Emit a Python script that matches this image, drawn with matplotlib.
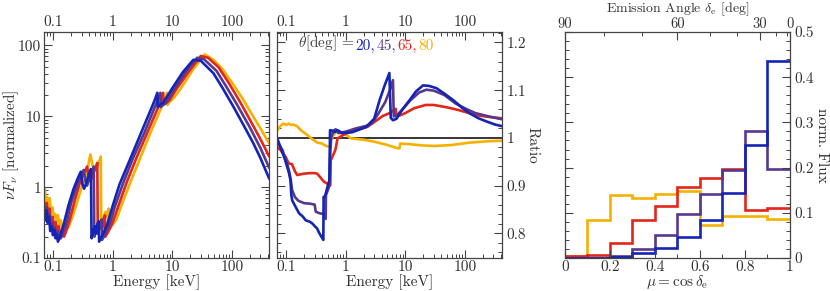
import matplotlib
matplotlib.use("Agg")
import matplotlib.pyplot as plt
import matplotlib.ticker as mticker
import numpy as np

plt.rcParams['font.family'] = 'cmr10'
plt.rcParams['mathtext.fontset'] = 'cm'
plt.rcParams['axes.unicode_minus'] = False
plt.rcParams['axes.formatter.use_mathtext'] = True

# colours for theta = 20, 45, 65, 80 deg
c_blue = '#1424b4'
c_purple = '#58388e'
c_red = '#e2261a'
c_orange = '#f6b000'

# ---- left panel: nuF_nu spectra ----
e_20 = [0.07, 0.073, 0.077, 0.081, 0.085, 0.089, 0.094, 0.099, 0.104, 0.109, 0.114, 0.12, 0.13,
        0.15, 0.18, 0.22, 0.26, 0.29, 0.31, 0.33, 0.36, 0.39, 0.43, 0.44, 0.47, 0.50, 0.52, 0.55,
        0.58, 0.59, 0.65, 0.8, 1.0, 1.3, 2.0, 3.0, 4.0, 5.0, 5.6, 5.7, 6.2, 7.0, 10, 15, 22.5,
        30, 49, 70, 106, 160, 229, 300, 420]
f_20 = [0.45, 0.34, 0.47, 0.31, 0.38, 0.24, 0.28, 0.21, 0.25, 0.19, 0.22, 0.17, 0.2,
        0.3, 0.55, 0.95, 1.35, 1.65, 1.1, 0.95, 1.15, 1.45, 1.8, 0.19, 0.24, 0.28, 0.22, 0.3,
        0.33, 0.17, 0.2, 0.29, 0.55, 1.1, 2.6, 5.9, 10.5, 16.5, 21.5, 13.5, 14.5, 15.5, 25, 42, 62.7,
        61, 40.6, 25, 13.7, 7.3, 4.17, 2.6, 1.34]

e_45 = [0.07, 0.074, 0.078, 0.082, 0.086, 0.091, 0.096, 0.101, 0.106, 0.112, 0.118, 0.124, 0.134,
        0.145, 0.17, 0.2, 0.25, 0.29, 0.325, 0.35, 0.37, 0.4, 0.44, 0.48, 0.49, 0.52, 0.56, 0.58,
        0.62, 0.65, 0.66, 0.73, 0.9, 1.1, 1.5, 2.2, 3.4, 4.5, 5.6, 6.3, 6.4, 7.0, 8.0, 11, 17, 26,
        34, 55, 80, 120, 200, 300, 420]
f_45 = [0.5, 0.38, 0.52, 0.34, 0.42, 0.27, 0.31, 0.23, 0.27, 0.21, 0.24, 0.19, 0.19,
        0.22, 0.33, 0.6, 1.05, 1.45, 1.75, 1.2, 1.05, 1.3, 1.6, 1.95, 0.2, 0.25, 0.3, 0.24,
        0.32, 0.35, 0.18, 0.21, 0.31, 0.55, 1.15, 2.6, 5.9, 10.5, 16.5, 21.5, 13.5, 14.5, 16, 25, 43, 67,
        64, 44, 26.5, 15, 7.0, 3.6, 1.9]

e_65 = [0.07, 0.074, 0.078, 0.082, 0.087, 0.092, 0.098, 0.104, 0.11, 0.117, 0.124, 0.132, 0.14,
        0.152, 0.165, 0.19, 0.23, 0.28, 0.33, 0.37, 0.395, 0.42, 0.46, 0.5, 0.55, 0.56, 0.6, 0.64,
        0.66, 0.7, 0.74, 0.75, 0.83, 1.0, 1.25, 1.7, 2.5, 3.8, 5.1, 6.4, 7.0, 7.1, 8.0, 9.0, 12, 19,
        30, 40, 60, 90, 140, 200, 300, 420]
f_65 = [0.62, 0.45, 0.6, 0.4, 0.5, 0.32, 0.38, 0.27, 0.32, 0.24, 0.28, 0.21, 0.22,
        0.2, 0.24, 0.35, 0.65, 1.15, 1.6, 1.95, 1.35, 1.2, 1.5, 1.8, 2.2, 0.22, 0.28, 0.33,
        0.26, 0.35, 0.4, 0.2, 0.23, 0.32, 0.55, 1.15, 2.6, 5.9, 10.5, 16.5, 21.5, 14.5, 15.5, 17, 25, 43,
        71, 67, 49, 29, 15.5, 9, 4.8, 2.75]

e_80 = [0.07, 0.072, 0.075, 0.079, 0.083, 0.087, 0.092, 0.097, 0.102, 0.108, 0.114, 0.12, 0.127,
        0.134, 0.142, 0.16, 0.18, 0.21, 0.25, 0.3, 0.36, 0.42, 0.46, 0.5, 0.55, 0.6, 0.63, 0.64,
        0.7, 0.76, 0.8, 0.85, 0.86, 0.95, 1.15, 1.45, 2.0, 2.9, 4.3, 5.8, 7.3, 8.1, 8.3, 9.0, 10.5,
        14, 22, 35, 50, 70, 100, 150, 200, 300, 420]
f_80 = [0.75, 0.95, 0.65, 0.72, 0.55, 0.7, 0.45, 0.52, 0.38, 0.42, 0.33, 0.4, 0.29,
        0.34, 0.26, 0.25, 0.27, 0.38, 0.6, 1.0, 1.5, 2.9, 2.0, 1.7, 2.0, 2.4, 2.7, 0.3,
        0.38, 0.45, 0.38, 0.5, 0.25, 0.28, 0.35, 0.6, 1.2, 2.6, 5.9, 10.5, 16.5, 21.5, 14.5, 16, 18,
        25, 45, 75, 62, 46, 30, 18, 12, 6.8, 4.2]

# ---- middle panel: ratio ----
r_e_20 = [0.07, 0.075, 0.086, 0.095, 0.104, 0.112, 0.118, 0.122, 0.126, 0.14, 0.164, 0.19, 0.213,
          0.25, 0.277, 0.3, 0.33, 0.36, 0.406, 0.42, 0.425, 0.45, 0.5, 0.53, 0.545, 0.6, 0.65, 0.73,
          0.88, 1.3, 2.2, 3.0, 3.7, 4.5, 5.4, 5.7, 6.2, 7.1, 9.0, 11.8, 15, 19.8, 25, 33.5, 45, 64,
          90, 122, 170, 235, 320, 420]
r_20 = [1.0, 0.99, 0.971, 0.955, 0.939, 0.925, 0.911, 0.88, 0.869, 0.858, 0.842, 0.835, 0.827,
        0.824, 0.82, 0.815, 0.81, 0.80, 0.789, 0.786, 0.876, 0.878, 0.9, 0.91, 1.016, 1.015, 1.012, 1.016,
        1.01, 1.012, 1.023, 1.04, 1.079, 1.11, 1.136, 1.042, 1.037, 1.04, 1.06, 1.079, 1.097, 1.11, 1.109,
        1.104, 1.093, 1.079, 1.063, 1.051, 1.041, 1.034, 1.028, 1.0245]

r_e_45 = [0.07, 0.076, 0.086, 0.095, 0.104, 0.112, 0.12, 0.126, 0.14, 0.16, 0.2, 0.25, 0.3, 0.314,
          0.36, 0.43, 0.46, 0.465, 0.5, 0.53, 0.55, 0.57, 0.62, 0.68, 0.75, 1.0, 1.5, 2.2, 2.7, 3.5,
          4.6, 5.5, 6.2, 6.4, 7.2, 9, 12, 17, 22.6, 30, 45, 70, 100, 150, 250, 420]
r_45 = [1.0, 0.985, 0.975, 0.96, 0.945, 0.93, 0.91, 0.89, 0.876, 0.868, 0.863, 0.862, 0.86, 0.845,
        0.842, 0.84, 0.83, 0.88, 0.89, 0.9, 0.97, 1.0, 1.015, 1.018, 1.01, 1.013, 1.02, 1.025, 1.03, 1.05,
        1.075, 1.1, 1.121, 1.045, 1.047, 1.06, 1.078, 1.095, 1.101, 1.099, 1.09, 1.072, 1.062, 1.052,
        1.045, 1.039]

r_e_65 = [0.07, 0.08, 0.09, 0.098, 0.104, 0.111, 0.125, 0.14, 0.153, 0.2, 0.25, 0.3, 0.33, 0.37,
          0.43, 0.49, 0.55, 0.56, 0.62, 0.67, 0.73, 1.0, 1.5, 2.3, 3.0, 4.2, 5.5, 6.9, 7.1, 8.5, 10,
          14, 22, 30, 50, 80, 150, 250, 420]
r_65 = [0.98, 0.975, 0.965, 0.96, 0.953, 0.946, 0.945, 0.93, 0.922, 0.925, 0.926, 0.926, 0.925, 0.918,
        0.908, 0.904, 0.90, 0.953, 0.965, 0.975, 0.999, 1.009, 1.016, 1.023, 1.033, 1.046, 1.052, 1.061,
        1.045, 1.048, 1.052, 1.062, 1.069, 1.069, 1.064, 1.058, 1.048, 1.044, 1.041]

r_e_80 = [0.07, 0.075, 0.08, 0.085, 0.09, 0.1, 0.11, 0.12, 0.13, 0.15, 0.18, 0.226, 0.27, 0.334,
          0.4, 0.45, 0.53, 0.55, 0.56, 0.62, 0.68, 0.8, 1.0, 1.22, 2.0, 3.0, 5.0, 7.5, 8.0, 8.2, 11,
          20, 31, 60, 120, 250, 420]
r_80 = [1.015, 1.02, 1.025, 1.028, 1.03, 1.027, 1.03, 1.027, 1.028, 1.025, 1.015, 1.006, 0.998, 0.99,
        0.988, 0.984, 0.981, 0.98, 0.995, 1.005, 1.013, 1.01, 1.007, 0.999, 0.996, 0.992, 0.985, 0.978,
        0.978, 0.988, 0.987, 0.984, 0.983, 0.985, 0.99, 0.993, 0.994]

# ---- right panel: emission angle histograms ----
mu_edges = [0.0, 0.1, 0.2, 0.3, 0.4, 0.5, 0.6, 0.7, 0.8, 0.9, 1.0]
h_20 = [0.0, 0.0, 0.003, 0.01, 0.022, 0.046, 0.083, 0.144, 0.250, 0.435]
h_45 = [0.001, 0.001, 0.005, 0.02, 0.051, 0.098, 0.142, 0.194, 0.281, 0.198]
h_65 = [0.005, 0.007, 0.033, 0.085, 0.116, 0.157, 0.178, 0.196, 0.107, 0.110]
h_80 = [0.005, 0.083, 0.139, 0.133, 0.141, 0.148, 0.072, 0.094, 0.092, 0.087]

e_ticks = [0.1, 1, 10, 100]
e_ticklabels = ['0.1', '1', '10', '100']

lw = 1.9
fs = 11
tick_col = '#333333'

fig = plt.figure(figsize=(8.30, 2.91), dpi=100)
ax1 = fig.add_axes([0.0530, 0.1134, 0.2711, 0.7766])
ax2 = fig.add_axes([0.3337, 0.1134, 0.2711, 0.7766])
ax3 = fig.add_axes([0.6807, 0.1134, 0.2711, 0.7766])


def style_axis(ax):
    for s in ax.spines.values():
        s.set_color('#444444')
        s.set_linewidth(0.9)
    ax.tick_params(which='both', direction='in', top=True, right=True,
                   color='#444444', labelcolor=tick_col, labelsize=fs)
    ax.tick_params(which='major', length=6, width=0.8)
    ax.tick_params(which='minor', length=3, width=0.7)


def energy_axis(ax):
    ax.set_xscale('log')
    ax.set_xlim(0.07, 420)
    ax.xaxis.set_major_locator(mticker.FixedLocator(e_ticks))
    ax.xaxis.set_major_formatter(mticker.FixedFormatter(e_ticklabels))
    ax.xaxis.set_minor_locator(mticker.LogLocator(subs=np.arange(2, 10), numticks=20))
    ax.xaxis.set_minor_formatter(mticker.NullFormatter())
    ax.tick_params(axis='x', labeltop=True, pad=2)
    ax.set_xlabel('Energy [keV]', fontsize=fs, color=tick_col, va='center')
    ax.xaxis.set_label_coords(0.5, -0.108)


# left panel
style_axis(ax1)
energy_axis(ax1)
ax1.set_yscale('log')
ax1.set_ylim(0.1, 155)
ax1.yaxis.set_major_locator(mticker.FixedLocator([0.1, 1, 10, 100]))
ax1.yaxis.set_major_formatter(mticker.FixedFormatter(['0.1', '1', '10', '100']))
ax1.yaxis.set_minor_locator(mticker.LogLocator(subs=np.arange(2, 10), numticks=20))
ax1.yaxis.set_minor_formatter(mticker.NullFormatter())
ax1.tick_params(axis='y', pad=2)
ax1.plot(e_80, f_80, color=c_orange, lw=lw)
ax1.plot(e_65, f_65, color=c_red, lw=lw)
ax1.plot(e_45, f_45, color=c_purple, lw=lw)
ax1.plot(e_20, f_20, color=c_blue, lw=lw)
ax1.set_ylabel(r'$\nu F_\nu$ [normalized]', fontsize=fs, color=tick_col, va='center')
ax1.yaxis.set_label_coords(-0.148, 0.5)

# middle panel
style_axis(ax2)
energy_axis(ax2)
ax2.set_ylim(0.748, 1.222)
ax2.yaxis.set_major_locator(mticker.MultipleLocator(0.1))
ax2.yaxis.set_minor_locator(mticker.MultipleLocator(0.02))
ax2.yaxis.set_major_formatter(mticker.FuncFormatter(lambda v, p: '%g' % round(v, 2)))
ax2.tick_params(axis='y', labelleft=False, labelright=True, pad=3)
ax2.axhline(1.0, color='black', lw=1.1, zorder=1)
ax2.plot(r_e_80, r_80, color=c_orange, lw=lw)
ax2.plot(r_e_65, r_65, color=c_red, lw=lw)
ax2.plot(r_e_45, r_45, color=c_purple, lw=lw)
ax2.plot(r_e_20, r_20, color=c_blue, lw=lw)
ax2.yaxis.set_label_position('right')
ax2.set_ylabel('Ratio', fontsize=fs, color=tick_col, rotation=-90, va='center')
ax2.yaxis.set_label_coords(1.135, 0.5)

t = ax2.text(0.093, 0.934, r'$\theta$[deg]$\,=\,$', transform=ax2.transAxes,
             fontsize=fs, color='#444444', va='baseline', ha='left')
prev = t
for lab, col in [('20,', c_blue), ('45,', c_purple), ('65,', c_red), ('80', c_orange)]:
    prev = ax2.annotate(lab, xy=(1, 0), xycoords=prev, xytext=(1.0, 0), textcoords='offset points',
                        fontsize=fs, color=col, va='bottom', ha='left')

# right panel
style_axis(ax3)
ax3.set_xlim(0, 1)
ax3.set_ylim(0, 0.5)
ax3.xaxis.set_major_locator(mticker.MultipleLocator(0.2))
ax3.xaxis.set_minor_locator(mticker.MultipleLocator(0.1))
ax3.xaxis.set_major_formatter(mticker.FuncFormatter(lambda v, p: '%g' % round(v, 2)))
ax3.yaxis.set_major_locator(mticker.MultipleLocator(0.1))
ax3.yaxis.set_minor_locator(mticker.MultipleLocator(0.02))
ax3.yaxis.set_major_formatter(mticker.FuncFormatter(lambda v, p: '%g' % round(v, 2)))
ax3.tick_params(axis='y', labelleft=False, labelright=True, pad=3)
ax3.tick_params(axis='x', top=False, which='both', pad=2)
ax3.stairs(h_80, mu_edges, color=c_orange, lw=lw, baseline=None)
ax3.stairs(h_65, mu_edges, color=c_red, lw=lw, baseline=None)
ax3.stairs(h_45, mu_edges, color=c_purple, lw=lw, baseline=None)
ax3.stairs(h_20, mu_edges, color=c_blue, lw=lw, baseline=None)
ax3.set_xlabel(r'$\mu = \cos\delta_\mathrm{e}$', fontsize=fs, color=tick_col, va='center')
ax3.xaxis.set_label_coords(0.5, -0.108)
ax3.yaxis.set_label_position('right')
ax3.set_ylabel('norm. Flux', fontsize=fs, color=tick_col, rotation=-90, va='center')
ax3.yaxis.set_label_coords(1.14, 0.5)

# top axis: emission angle
angle_major = [90, 60, 30, 0]
angle_minor = [80, 70, 50, 40, 20, 10]
top = ax3.twiny()
top.set_xlim(0, 1)
top.set_xticks(np.cos(np.radians(angle_major)))
top.set_xticklabels([str(a) for a in angle_major])
top.set_xticks(np.cos(np.radians(angle_minor)), minor=True)
top.tick_params(which='both', direction='in', color='#444444', labelcolor=tick_col, labelsize=10.5)
top.tick_params(which='major', length=6, width=0.8, pad=0.5)
top.tick_params(which='minor', length=3, width=0.7)
for s in top.spines.values():
    s.set_visible(False)
top.set_xlabel(r'Emission Angle $\delta_\mathrm{e}$ [deg]', fontsize=10, color=tick_col, va='center')
top.xaxis.set_label_coords(0.5, 1.099)

fig.savefig('out.png', dpi=100)
